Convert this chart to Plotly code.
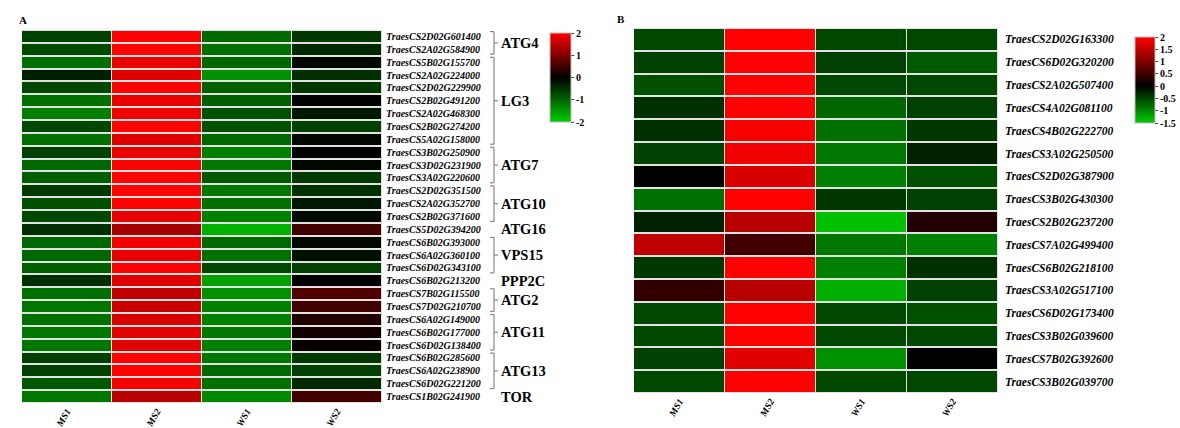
import plotly.graph_objects as go

# ---------------- data ----------------
samples = ["MS1", "MS2", "WS1", "WS2"]

genes_a = [
    "TraesCS2D02G601400", "TraesCS2A02G584900", "TraesCS5B02G155700", "TraesCS2A02G224000",
    "TraesCS2D02G229900", "TraesCS2B02G491200", "TraesCS2A02G468300", "TraesCS2B02G274200",
    "TraesCS5A02G158000", "TraesCS3B02G250900", "TraesCS3D02G231900", "TraesCS3A02G220600",
    "TraesCS2D02G351500", "TraesCS2A02G352700", "TraesCS2B02G371600", "TraesCS5D02G394200",
    "TraesCS6B02G393000", "TraesCS6A02G360100", "TraesCS6D02G343100", "TraesCS6B02G213200",
    "TraesCS7B02G115500", "TraesCS7D02G210700", "TraesCS6A02G149000", "TraesCS6B02G177000",
    "TraesCS6D02G138400", "TraesCS6B02G285600", "TraesCS6A02G238900", "TraesCS6D02G221200",
    "TraesCS1B02G241900",
]
ms1_a = [-0.63, -0.73, -1.10, -0.30, -0.70, -1.10, -1.25, -0.70, -1.10, -0.63, -1.02, -0.94, -0.55,
         -0.78, -0.70, -0.47, -1.02, -1.02, -0.94, -0.47, -1.10, -1.18, -1.10, -1.18, -1.18, -0.63,
         -0.63, -0.86, -1.18]
ms2_a = [2.00, 2.00, 1.82, 1.76, 2.00, 1.82, 1.88, 2.00, 1.76, 1.82, 2.00, 2.00, 2.00, 2.00, 1.82,
         1.30, 1.90, 1.82, 2.00, 1.76, 1.50, 1.57, 1.70, 1.76, 1.76, 2.00, 2.00, 1.95, 1.45]
ws1_a = [-1.04, -1.10, -1.02, -1.41, -0.94, -0.94, -0.78, -0.78, -1.02, -1.25, -1.18, -0.86, -1.18,
         -1.10, -1.25, -1.73, -1.02, -1.10, -0.70, -1.57, -1.41, -1.25, -1.25, -1.18, -1.25, -1.18,
         -1.02, -1.10, -1.33]
ws2_a = [-0.55, -0.40, -0.08, -0.47, -0.55, 0.00, -0.24, -0.63, -0.08, 0.00, -0.08, -0.55, -0.47,
         -0.24, -0.08, 0.50, -0.08, -0.16, -0.63, 0.00, 0.63, 0.50, 0.25, 0.13, 0.06, -0.55, -0.63,
         -0.40, 0.50]

group_names = ["ATG4", "LG3", "ATG7", "ATG10", "ATG16", "VPS15", "PPP2C", "ATG2", "ATG11", "ATG13", "TOR"]
group_sizes = [2, 7, 3, 3, 1, 3, 1, 2, 3, 3, 1]

genes_b = [
    "TraesCS2D02G163300", "TraesCS6D02G320200", "TraesCS2A02G507400", "TraesCS4A02G081100",
    "TraesCS4B02G222700", "TraesCS3A02G250500", "TraesCS2D02G387900", "TraesCS3B02G430300",
    "TraesCS2B02G237200", "TraesCS7A02G499400", "TraesCS6B02G218100", "TraesCS3A02G517100",
    "TraesCS6D02G173400", "TraesCS3B02G039600", "TraesCS7B02G392600", "TraesCS3B02G039700",
]
ms1_b = [-0.53, -0.47, -0.59, -0.35, -0.35, -0.47, 0.00, -0.82, -0.24, 1.50, -0.41, 0.38, -0.53,
         -0.53, -0.47, -0.53]
ms2_b = [2.00, 2.00, 2.00, 2.00, 1.95, 1.88, 1.70, 2.00, 1.45, 0.50, 2.00, 1.45, 2.00, 2.00, 1.76, 2.00]
ws1_b = [-0.53, -0.47, -0.53, -0.76, -0.82, -0.88, -0.94, -0.41, -1.41, -0.88, -0.94, -1.29, -0.53,
         -0.53, -1.06, -0.53]
ws2_b = [-0.53, -0.66, -0.53, -0.47, -0.41, -0.24, -0.59, -0.47, 0.25, -0.94, -0.35, -0.47, -0.59,
         -0.53, 0.00, -0.53]

ticks_a = [2, 1, 0, -1, -2]
ticks_b = [2, 1.5, 1, 0.5, 0, -0.5, -1, -1.5]

# ---------------- styling ----------------
W, H = 1180, 428
SERIF = "Liberation Serif, Times New Roman, serif"
GREEN = "#00cc00"

def px_x(p):
    return p / W

def px_y(p):
    return 1 - p / H

z_a = [list(r) for r in zip(ms1_a, ms2_a, ws1_a, ws2_a)]
z_b = [list(r) for r in zip(ms1_b, ms2_b, ws1_b, ws2_b)]

scale_a = [[0, GREEN], [0.5, "#000000"], [1, "#ff0000"]]
zmin_b, zmax_b = -1.5, 2
mid_b = (0 - zmin_b) / (zmax_b - zmin_b)
scale_b = [[0, GREEN], [mid_b, "#000000"], [1, "#ff0000"]]

fig = go.Figure()

fig.add_trace(go.Heatmap(
    z=z_a, x=samples, y=genes_a, xaxis="x", yaxis="y",
    zmin=-2, zmax=2, colorscale=scale_a, xgap=1, ygap=2,
    colorbar=dict(
        x=px_x(550), xanchor="left", y=px_y(77.5), yanchor="middle",
        len=89 / H, lenmode="fraction", thickness=21, thicknessmode="pixels",
        tickvals=ticks_a, ticktext=[str(t) for t in ticks_a],
        ticks="outside", ticklen=3, tickcolor="#444",
        tickfont=dict(family=SERIF, size=10, color="#000", weight="bold"),
        outlinewidth=1, outlinecolor="#bbb", xpad=0, ypad=0,
    ),
))

fig.add_trace(go.Heatmap(
    z=z_b, x=samples, y=genes_b, xaxis="x2", yaxis="y2",
    zmin=zmin_b, zmax=zmax_b, colorscale=scale_b, xgap=1, ygap=2,
    colorbar=dict(
        x=px_x(1135), xanchor="left", y=px_y(80), yanchor="middle",
        len=86 / H, lenmode="fraction", thickness=20, thicknessmode="pixels",
        tickvals=ticks_b, ticktext=[str(t) for t in ticks_b],
        ticks="outside", ticklen=3, tickcolor="#444",
        tickfont=dict(family=SERIF, size=10, color="#000", weight="bold"),
        outlinewidth=1, outlinecolor="#bbb", xpad=0, ypad=0,
    ),
))

xfont = dict(family=SERIF, size=9.5, color="#000", weight="bold", style="italic")

fig.update_layout(
    width=W, height=H,
    margin=dict(l=0, r=0, t=0, b=0, autoexpand=False),
    paper_bgcolor="white",
    plot_bgcolor="#e2e2e2",
    showlegend=False,
    xaxis=dict(domain=[px_x(22), px_x(382)], range=[-0.5, len(samples) - 0.5],
               tickangle=-60, tickfont=xfont, automargin=False,
               showgrid=False, zeroline=False, ticks="", anchor="y"),
    yaxis=dict(domain=[px_y(403), px_y(30)], range=[len(genes_a) - 0.5, -0.5], side="right",
               tickfont=dict(family=SERIF, size=10, color="#000", weight="bold", style="italic"),
               automargin=False,
               showgrid=False, zeroline=False, ticks="", anchor="x", ticklabelstandoff=3),
    xaxis2=dict(domain=[px_x(634), px_x(998)], range=[-0.5, len(samples) - 0.5],
                tickangle=-60, tickfont=xfont, automargin=False,
                showgrid=False, zeroline=False, ticks="", anchor="y2"),
    yaxis2=dict(domain=[px_y(393), px_y(28)], range=[len(genes_b) - 0.5, -0.5], side="right",
                tickfont=dict(family=SERIF, size=11.5, color="#000", weight="bold", style="italic"),
                automargin=False,
                showgrid=False, zeroline=False, ticks="", anchor="x2", ticklabelstandoff=6),
)

# panel letters
fig.add_annotation(text="A", x=px_x(17), y=px_y(20), xref="paper", yref="paper",
                   xanchor="left", yanchor="middle", showarrow=False,
                   font=dict(family=SERIF, size=11, color="#000", weight="bold"))
fig.add_annotation(text="B", x=px_x(615), y=px_y(19), xref="paper", yref="paper",
                   xanchor="left", yanchor="middle", showarrow=False,
                   font=dict(family=SERIF, size=11, color="#000", weight="bold"))

# group brackets and labels for panel A (row coordinates on the y axis)
bx = px_x(494)
tick_l = px_x(490)
tick_r = px_x(498)
line = dict(color="#888", width=1.2)
start = 0
for name, n in zip(group_names, group_sizes):
    top = start - 0.5 + 0.12
    bot = start + n - 1 + 0.5 - 0.12
    mid = start + (n - 1) / 2
    if n > 1:
        fig.add_shape(type="line", xref="paper", yref="y", x0=bx, x1=bx, y0=top, y1=bot, line=line)
        fig.add_shape(type="line", xref="paper", yref="y", x0=tick_l, x1=bx, y0=top, y1=top, line=line)
        fig.add_shape(type="line", xref="paper", yref="y", x0=tick_l, x1=bx, y0=bot, y1=bot, line=line)
        fig.add_shape(type="line", xref="paper", yref="y", x0=bx, x1=tick_r, y0=mid, y1=mid, line=line)
    fig.add_annotation(text=name, x=px_x(499), y=mid, xref="paper", yref="y",
                       xanchor="left", yanchor="middle", showarrow=False,
                       font=dict(family=SERIF, size=14.5, color="#000", weight="bold"))
    start += n

fig.write_html("out.html")
